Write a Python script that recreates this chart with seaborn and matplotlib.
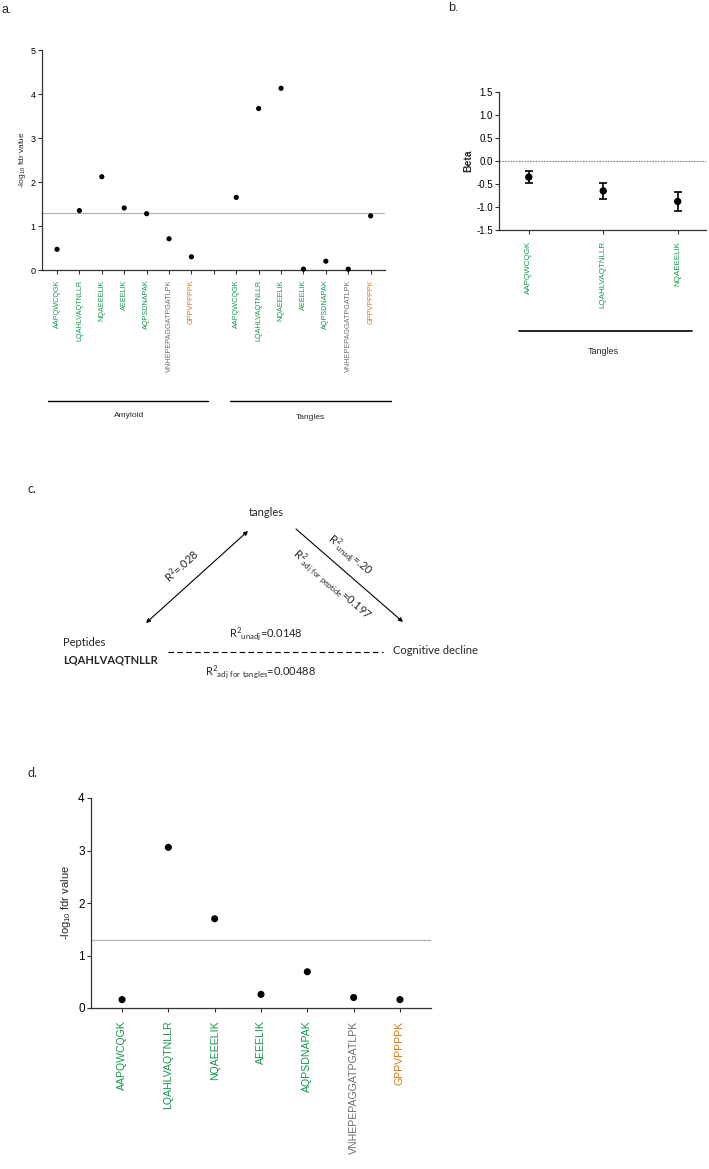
import numpy as np
import pandas as pd
import seaborn as sns
import matplotlib.pyplot as plt

# peptides and their label colours
peptides = ['AAPQWCQGK', 'LQAHLVAQTNLLR', 'NQAEEELIK', 'AEEELIK',
            'AQPSDNAPAK', 'VNHEPEPAGGATPGATLPK', 'GPPVPPPPK']
pep_colors = ['#14964a'] * 5 + ['#6e6e6e', '#d9770f']

# panel a: -log10 fdr for amyloid and tangles
amyloid_fdr = [0.47, 1.35, 2.12, 1.41, 1.28, 0.71, 0.30]
tangles_fdr = [1.65, 3.67, 4.13, 0.02, 0.20, 0.02, 1.23]

# panel b: beta estimates for the 3 significant peptides (tangles)
beta_peps = ['AAPQWCQGK', 'LQAHLVAQTNLLR', 'NQAEEELIK']
beta = [-0.35, -0.65, -0.88]
beta_lo = [-0.48, -0.82, -1.08]
beta_hi = [-0.21, -0.48, -0.68]

# panel d: -log10 fdr for cognitive decline
cog_fdr = [0.16, 3.06, 1.70, 0.26, 0.69, 0.20, 0.16]

threshold = -np.log10(0.05)

sns.set_theme(style='ticks')
plt.rcParams['font.family'] = ['Liberation Sans', 'DejaVu Sans']
plt.rcParams['mathtext.default'] = 'regular'

W, H = 709, 1169
fig = plt.figure(figsize=(W / 100, H / 100), dpi=100)


def px_axes(l, t, r, b):
    return fig.add_axes([l / W, 1 - b / H, (r - l) / W, (b - t) / H])


def prism_style(ax, fs):
    sns.despine(ax=ax)
    for s in ['left', 'bottom']:
        ax.spines[s].set_color('#333333')
        ax.spines[s].set_linewidth(0.9)
    ax.tick_params(axis='both', colors='#333333', length=3, width=0.8,
                   labelsize=fs, pad=1.5)
    ax.tick_params(axis='both', labelcolor='black')


def color_xlabels(ax, colors):
    for lab, c in zip(ax.get_xticklabels(), colors):
        lab.set_color(c)


# ---------------- panel a ----------------
df_a = pd.DataFrame({
    'pos': list(range(7)) + list(range(8, 15)),
    'fdr': amyloid_fdr + tangles_fdr,
})
ax_a = px_axes(42, 50, 385, 270)
sns.scatterplot(data=df_a, x='pos', y='fdr', ax=ax_a, color='black',
                s=14, edgecolor='none', clip_on=False, zorder=3)
ax_a.axhline(threshold, color='#888888', ls=(0, (1, 0.6)), lw=0.9)
ax_a.set_xlim(-0.67, 14.64)
ax_a.set_ylim(0, 5)
ax_a.set_yticks(range(6))
ax_a.set_xticks(range(15))
ax_a.set_xticklabels(peptides + [''] + peptides, rotation=90)
ax_a.set_xlabel('')
ax_a.set_ylabel(r'-log$_{10}$ fdr value', fontsize=6, labelpad=2)
prism_style(ax_a, 6.5)
ax_a.tick_params(axis='x', labelsize=5.2, pad=4)
color_xlabels(ax_a, pep_colors + ['k'] + pep_colors)
tr = ax_a.get_xaxis_transform()
ax_a.plot([-0.4, 6.74], [-0.595, -0.595], color='black', lw=1,
          transform=tr, clip_on=False)
ax_a.plot([7.72, 14.9], [-0.595, -0.595], color='black', lw=1,
          transform=tr, clip_on=False)
ax_a.text(3.2, -0.66, 'Amyloid', transform=tr, ha='center', va='center',
          fontsize=6)
ax_a.text(11.3, -0.67, 'Tangles', transform=tr, ha='center', va='center',
          fontsize=6)

# ---------------- panel b ----------------
df_b = pd.DataFrame({'pos': range(3), 'beta': beta})
ax_b = px_axes(499, 92, 706, 230)
ax_b.errorbar(df_b['pos'], df_b['beta'],
              yerr=[np.array(beta) - np.array(beta_lo),
                    np.array(beta_hi) - np.array(beta)],
              fmt='none', ecolor='black', elinewidth=1.2, capsize=3,
              capthick=1.2, zorder=2)
sns.scatterplot(data=df_b, x='pos', y='beta', ax=ax_b, color='black',
                s=28, edgecolor='none', zorder=3)
ax_b.axhline(0, color='#888888', ls=(0, (1.5, 1)), lw=0.8)
ax_b.set_xlim(-0.40, 2.38)
ax_b.set_ylim(-1.5, 1.5)
ax_b.set_yticks(np.arange(-1.5, 1.6, 0.5))
ax_b.set_yticklabels([f'{v:.1f}' for v in np.arange(-1.5, 1.6, 0.5)])
ax_b.set_xticks(range(3))
ax_b.set_xticklabels(beta_peps, rotation=90)
ax_b.set_xlabel('')
ax_b.set_ylabel('Beta', fontsize=7.5, fontweight='bold', labelpad=2)
prism_style(ax_b, 7)
ax_b.tick_params(axis='x', labelsize=5.8, pad=5)
color_xlabels(ax_b, pep_colors[:3])
trb = ax_b.get_xaxis_transform()
ax_b.plot([-0.13, 2.19], [-0.73, -0.73], color='black', lw=1.2,
          transform=trb, clip_on=False)
ax_b.text(1.0, -0.88, 'Tangles', transform=trb, ha='center', va='center',
          fontsize=6.5)

# ---------------- panel d ----------------
df_d = pd.DataFrame({'pos': range(7), 'fdr': cog_fdr})
ax_d = px_axes(91, 798, 431, 1008)
sns.scatterplot(data=df_d, x='pos', y='fdr', ax=ax_d, color='black',
                s=26, edgecolor='none', clip_on=False, zorder=3)
ax_d.axhline(threshold, color='#888888', ls=(0, (1, 0.6)), lw=0.9)
ax_d.set_xlim(-0.67, 6.67)
ax_d.set_ylim(0, 4)
ax_d.set_yticks(range(5))
ax_d.set_xticks(range(7))
ax_d.set_xticklabels(peptides, rotation=90)
ax_d.set_xlabel('')
ax_d.set_ylabel(r'-log$_{10}$ fdr value', fontsize=8, labelpad=4)
prism_style(ax_d, 8.5)
ax_d.tick_params(axis='x', labelsize=7.6, pad=6)
color_xlabels(ax_d, pep_colors)

# ---------------- panel c (diagram) ----------------
ax_c = fig.add_axes([0, 0, 1, 1], zorder=-1)
ax_c.set_xlim(0, W)
ax_c.set_ylim(H, 0)
ax_c.axis('off')
cfont = ['Lato', 'DejaVu Sans']
fs_c = 8
ax_c.text(266, 513, 'tangles', ha='center', va='center', fontsize=fs_c,
          family=cfont)
ax_c.annotate('', xy=(248, 531), xytext=(146, 623),
              arrowprops=dict(arrowstyle='<|-|>', lw=0.8, color='black',
                              mutation_scale=6, shrinkA=0, shrinkB=0))
ax_c.annotate('', xy=(403, 622), xytext=(296, 529),
              arrowprops=dict(arrowstyle='-|>', lw=0.8, color='black',
                              mutation_scale=6, shrinkA=0, shrinkB=0))
ax_c.text(182, 566, r'R$^{2}$=.028', ha='center', va='center', rotation=42,
          rotation_mode='anchor', fontsize=fs_c, family=cfont)
ax_c.text(350, 555, r'R$^{2}{}_{unadj}$=.20', ha='center', va='center',
          rotation=-41, rotation_mode='anchor', fontsize=fs_c, family=cfont)
ax_c.text(332, 584, r'R$^{2}{}_{adj\ for\ peptide}$=0.197', ha='center',
          va='center', rotation=-41, rotation_mode='anchor', fontsize=fs_c,
          family=cfont)
ax_c.text(63, 643, 'Peptides', ha='left', va='center', fontsize=fs_c,
          family=cfont)
ax_c.text(63, 660, 'LQAHLVAQTNLLR', ha='left', va='center', fontsize=fs_c,
          fontweight='bold', family=cfont)
ax_c.plot([168, 383], [652, 652], color='black', lw=0.8, ls=(0, (5, 3)))
ax_c.text(393, 651, 'Cognitive decline', ha='left', va='center',
          fontsize=fs_c, family=cfont)
ax_c.text(266, 633, r'R$^{2}{}_{unadj}$=0.0148', ha='center', va='center',
          fontsize=fs_c, family=cfont)
ax_c.text(261, 671, r'R$^{2}{}_{adj\ for\ tangles}$=0.00488', ha='center',
          va='center', fontsize=fs_c, family=cfont)

# panel letters
ax_c.text(1, 10, 'a.', fontsize=9, va='center')
ax_c.text(448, 8, 'b.', fontsize=9, va='center')
ax_c.text(28, 489, 'c.', fontsize=9, va='center', family=cfont)
ax_c.text(28, 773, 'd.', fontsize=9, va='center', family=cfont)

fig.savefig('out.png', dpi=100)
